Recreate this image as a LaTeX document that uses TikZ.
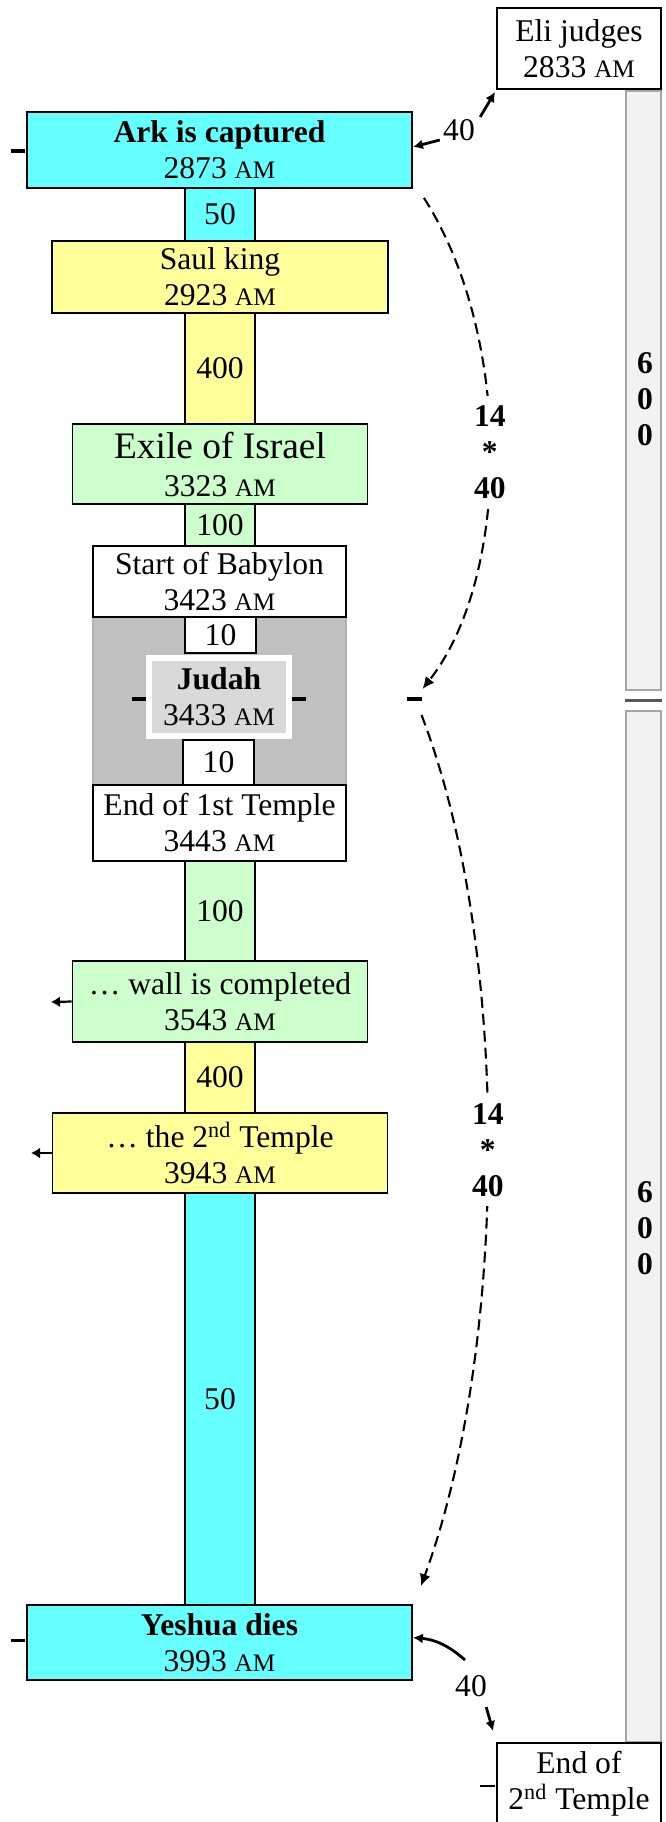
\documentclass[tikz,border=0pt]{standalone}
\usepackage{fontspec}
\setmainfont{Liberation Serif}
\usetikzlibrary{arrows.meta,calc}
\definecolor{cyanbox}{HTML}{66FFFF}
\definecolor{yelbox}{HTML}{FFFF99}
\definecolor{grnbox}{HTML}{CCFFCC}
\definecolor{greyreg}{HTML}{C0C0C0}
\definecolor{greyregline}{HTML}{B0B0B0}
\definecolor{judahin}{HTML}{D9D9D9}
\definecolor{barfill}{HTML}{F2F2F2}
\definecolor{barline}{HTML}{A6A6A6}
\definecolor{dividercol}{HTML}{595959}
\newcommand{\am}{{\fontsize{12.6pt}{12.6pt}\selectfont AM}}
\begin{document}
\begin{tikzpicture}[x=0.5pt,y=-0.5pt,
  every node/.style={font=\fontsize{15.8pt}{18pt}\selectfont},
  boldtext/.style={font=\fontsize{15.8pt}{18pt}\selectfont\bfseries},
  box/.style={draw=black, line width=0.9pt, align=center, inner sep=0pt},
  conn/.style={draw=black, line width=0.9pt, inner sep=0pt, minimum width=35pt},
  tickmark/.style={line width=1.75pt},
  arr/.style={line width=1.4pt, -{Latex[length=5pt,width=5pt]}},
  smallarr/.style={line width=1.1pt, -{Latex[length=4.5pt,width=5.5pt]}},
  dasharr/.style={line width=1.05pt, dash pattern=on 5.5pt off 3pt, -{Latex[length=6pt,width=5.5pt]}},
  bar/.style={draw=barline, fill=barfill, line width=1.3pt, minimum width=17.5pt, inner sep=0pt},
]
\useasboundingbox (0,0) rectangle (665,1822);
\clip (0,0) rectangle (665,1822);

% right-hand bars
\node[bar, minimum height=299.5pt] (bar1) at (643.5,390.5) {};
\node[bar, minimum height=515.5pt] (bar2) at (643.5,1226.5) {};
\coordinate (divmid) at ($(bar1.south)!0.5!(bar2.north)$);
\draw[line width=1.75pt, color=dividercol] ([shift={(-18.5,0)}]divmid) -- ([shift={(18.5,0)}]divmid);
\node[boldtext, align=center, inner sep=0pt] (six1) at (645,399) {6\\0\\0};
\node[boldtext, align=center, inner sep=0pt] (six2) at (645,1228) {6\\0\\0};

% grey Judah region
\node[draw=greyregline, fill=greyreg, line width=0.6pt, minimum width=126.5pt, minimum height=84pt, inner sep=0pt] (judahreg) at (219.5,701) {};

% connectors (bars between boxes)
\node[conn, fill=cyanbox, minimum height=26.5pt] (c1) at (220,214.5) {50};
\node[conn, fill=yelbox, minimum height=55.5pt] (c2) at (220,368.5) {400};
\node[conn, fill=grnbox, minimum height=21pt] (c3) at (220,525) {100};
\node[conn, fill=white, minimum width=35.5pt, minimum height=18pt] (c4) at (220.5,635) {10};
\node[conn, fill=white, minimum width=35.5pt, minimum height=22.5pt] (c5) at (218.5,762.5) {10};
\node[conn, fill=grnbox, minimum height=50pt] (c6) at (220,911) {100};
\node[conn, fill=yelbox, minimum height=35.5pt] (c7) at (220,1077.5) {400};
\node[conn, fill=cyanbox, minimum height=206pt] (c8) at (220,1399) {50};

% boxes
\node[box, fill=white, minimum width=82pt, minimum height=40.5pt] (eli) at (579,48.5) {Eli judges\\2833 \am};
\node[box, fill=cyanbox, minimum width=192.5pt, minimum height=38pt] (ark) at (219.5,150) {\textbf{Ark is captured}\\2873 \am};
\node[box, fill=yelbox, minimum width=168pt, minimum height=36pt] (saul) at (220,277) {Saul king\\2923 \am};
\node[box, fill=grnbox, minimum width=147.5pt, minimum height=40pt] (exile) at (220,464) {{\fontsize{18.7pt}{20pt}\selectfont Exile of Israel}\\[1pt]3323 \am};
\node[box, fill=white, minimum width=126.5pt, minimum height=35.5pt] (baby) at (219.5,581.5) {Start of Babylon\\3423 \am};
\node[draw=white, line width=3pt, fill=judahin, minimum width=70pt, minimum height=39.25pt, align=center, inner sep=0pt] (judah) at (219,696.75) {\textbf{Judah}\\3433 \am};
\node[box, fill=white, minimum width=126.5pt, minimum height=38pt] (end1) at (219.5,823) {End of 1st Temple\\3443 \am};
\node[box, fill=grnbox, minimum width=147.5pt, minimum height=40.5pt] (wall) at (220,1001.5) {… wall is completed\\3543 \am};
\node[box, fill=yelbox, minimum width=167.5pt, minimum height=40pt] (temple) at (220,1153) {… the 2\textsuperscript{nd} Temple\\3943 \am};
\node[box, fill=cyanbox, minimum width=192.5pt, minimum height=37.5pt] (yeshua) at (219.5,1642.5) {\textbf{Yeshua dies}\\3993 \am};
\node[box, fill=white, minimum width=82pt, minimum height=41pt] (end2) at (579,1784) {End of\\2\textsuperscript{nd} Temple};

% tick marks
\draw[tickmark] ([shift={(-1,1)}]ark.west) -- ++(-14,0);
\draw[tickmark] ([shift={(-1,-2)}]yeshua.west) -- ++(-14,0);
\draw[tickmark] ([shift={(0,2)}]judah.west) -- ++(-14,0);
\draw[tickmark] ([shift={(0,2)}]judah.east) -- ++(14,0);
\node[fill=black, inner sep=0pt, minimum width=7.5pt, minimum height=1.75pt] (tk) at (414.5,699) {};
\draw[line width=0.8pt] ([shift={(-1,2)}]end2.west) -- ++(-15,0);

% left arrows
\coordinate (wallarr) at (51,1002);
\coordinate (templearr) at (31,1153);
\draw[smallarr] (wall.west) -- (wallarr);
\draw[smallarr] (temple.west) -- (templearr);

% 40-year arrows
\node[inner sep=0pt] (l40a) at (459,130) {40};
\draw[arr] ([shift={(-3,10)}]l40a.west) -- ([shift={(0,-3)}]ark.east);
\draw[arr] ([shift={(5,-2)}]l40a.north east) -- ([shift={(-1,2)}]eli.south west);
\node[inner sep=0pt] (l40b) at (471,1686) {40};
\draw[arr] ([shift={(-6,-15)}]l40b.north) to[bend right=18] ([shift={(0,-5)}]yeshua.east);
\draw[arr] ([shift={(-1,10)}]l40b.south east) -- ([shift={(-3,-11)}]end2.north west);

% dashed 14*40 arcs
\draw[dasharr] ([shift={(11,9)}]ark.south east) .. controls (512,335) and (512,575) .. ([shift={(8,-10)}]tk.center)
  node[pos=0.5, fill=white, inner xsep=2pt, inner ysep=5pt, align=center, boldtext] (m1) {14\\*\\40};
\draw[dasharr] ([shift={(7,16)}]tk.center) .. controls (512,950) and (508,1349) .. ([shift={(8,-18)}]yeshua.north east)
  node[pos=0.5, fill=white, inner xsep=2pt, inner ysep=5pt, align=center, boldtext] (m2) {14\\*\\40};
\end{tikzpicture}
\end{document}
